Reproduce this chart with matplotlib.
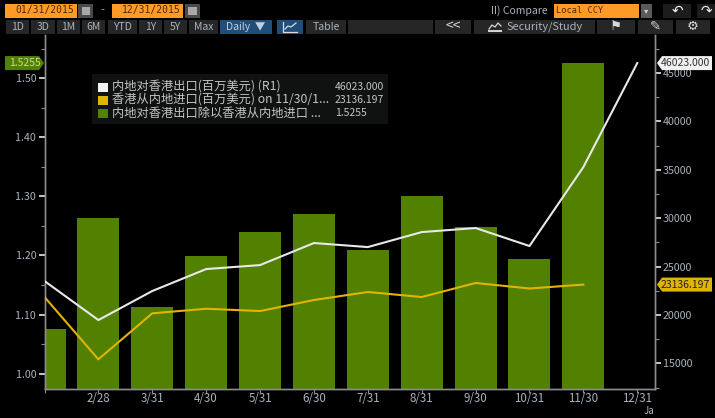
import matplotlib
matplotlib.use("Agg")
import matplotlib.pyplot as plt
from matplotlib.lines import Line2D
from matplotlib.patches import Rectangle, Polygon

plt.rcParams['font.family'] = ['Noto Sans CJK SC', 'DejaVu Sans']

W, H = 715, 418

months = ['', '2/28', '3/31', '4/30', '5/31', '6/30', '7/31', '8/31', '9/30', '10/31', '11/30', '12/31']
ratio = [1.0756, 1.263, 1.112, 1.199, 1.24, 1.27, 1.209, 1.30, 1.248, 1.194, 1.5255]
exports = [23500, 19470, 22470, 24740, 25150, 27430, 27010, 28560, 28980, 27120, 35280, 46023]
imports = [21850, 15410, 20165, 20640, 20400, 21540, 22370, 21850, 23300, 22730, 23136.197]
left_ticks = [1.00, 1.10, 1.20, 1.30, 1.40, 1.50]
right_ticks = [15000, 20000, 25000, 30000, 35000, 40000, 45000]

GREEN = '#528000'
YELLOW = '#e0b400'
WHITE = '#e8e8e8'
LABEL = '#aab2bc'
AXIS = '#8c8c8c'

fig = plt.figure(figsize=(W / 100, H / 100), dpi=100, facecolor='black')


# everything outside the axes is placed in pixels, top left origin
def box(x0, y0, x1, y1, color, z=1):
    fig.patches.append(Rectangle((x0 / W, 1 - y1 / H), (x1 - x0) / W, (y1 - y0) / H,
                                 transform=fig.transFigure, facecolor=color, edgecolor='none', zorder=z))


def label(x, y, s, color=LABEL, size=7.5, ha='center', **kw):
    fig.text(x / W, 1 - y / H, s, color=color, fontsize=size, ha=ha, va='center', zorder=5, **kw)


def squiggle(xs, ys, color='#d8d8d8', lw=0.9):
    fig.add_artist(Line2D([a / W for a in xs], [1 - b / H for b in ys], color=color, lw=lw,
                          transform=fig.transFigure, zorder=6))


def tag(y, x0, x1, color, s, text_color, point):
    # y is in pixels from the top, the arrow side points to the axis
    if point == 'right':
        pts = [(x0, y - 7), (x1 - 5, y - 7), (x1, y), (x1 - 5, y + 7), (x0, y + 7)]
    else:
        pts = [(x0, y), (x0 + 5, y - 7), (x1, y - 7), (x1, y + 7), (x0 + 5, y + 7)]
    fig.patches.append(Polygon([(a / W, 1 - b / H) for a, b in pts], closed=True,
                               transform=fig.transFigure, facecolor=color, edgecolor='none', zorder=6))
    fig.text((x0 + x1) / 2 / W + 0.001, 1 - y / H, s, color=text_color, fontsize=7.5,
             ha='center', va='center', zorder=7)


ax = fig.add_axes([44.5 / W, 1 - 389 / H, 610 / W, 354 / H], facecolor='black')
ax2 = ax.twinx()

x = list(range(len(months)))
ax.bar(x[:len(ratio)], ratio, width=0.78, color=GREEN, zorder=2)
ax.set_xlim(0, 11.32)
ax.set_ylim(0.974, 1.573)

ax2.plot(x[:len(exports)], exports, color=WHITE, lw=1.5, zorder=3)
ax2.plot(x[:len(imports)], imports, color=YELLOW, lw=1.5, zorder=3)
ax2.set_ylim(12345, 48926)

ax.set_xticks(x)
ax.set_xticklabels(months)
ax.set_yticks(left_ticks)
ax.set_yticklabels(['%.2f' % v for v in left_ticks])
ax.set_yticks([v + 0.05 for v in left_ticks], minor=True)
ax2.set_yticks(right_ticks)
ax2.set_yticklabels([str(v) for v in right_ticks])
ax2.set_yticks([v + 2500 for v in right_ticks[:-1]] + [12500, 47500], minor=True)

ax.tick_params(axis='x', colors=AXIS, labelcolor=LABEL, labelsize=8.3, length=3, width=0.8, pad=-1)
ax.tick_params(axis='y', which='major', colors=WHITE, labelcolor=LABEL, labelsize=7.7, length=4, width=1.2, pad=2)
ax.tick_params(axis='y', which='minor', colors=AXIS, length=3, width=0.8)
ax2.tick_params(axis='y', which='major', colors=WHITE, labelcolor=LABEL, labelsize=7.7, length=4, width=1.2, pad=2)
ax2.tick_params(axis='y', which='minor', colors=AXIS, length=3, width=0.8)
for a in (ax, ax2):
    a.spines['top'].set_visible(False)
    for side in ('left', 'right', 'bottom'):
        a.spines[side].set_color(AXIS)
        a.spines[side].set_linewidth(1.0)

# value tags on both axes
to_px = lambda a, v: H - a.transData.transform((0, v))[1]
tag(to_px(ax, ratio[-1]), 5, 44, GREEN, '1.5255', '#c8d8a8', 'right')
tag(to_px(ax2, exports[-1]), 657, 712, '#f0f0f0', '46023.000', '#333333', 'left')
tag(to_px(ax2, imports[-1]), 657, 712, YELLOW, '23136.197', '#222222', 'left')

# legend panel
box(92, 74, 388, 124, '#101212', 4)
rows = [(87, '#f2f2f2', '内地对香港出口(百万美元) (R1)', '46023.000'),
        (100, YELLOW, '香港从内地进口(百万美元) on 11/30/1...', '23136.197'),
        (113, GREEN, '内地对香港出口除以香港从内地进口 ...', '1.5255')]
for y, c, s, v in rows:
    box(98, y - 4.5, 108, y + 4.5, c, 5)
    label(112, y, s, color='#c4c4c4', size=8.8, ha='left')
    label(335, y, v, color='#c4c4c4', size=7.5, ha='left')

# toolbar, first row
ORANGE = '#ff9a26'
BTN = '#262626'
for x0, x1, s in [(5, 77, '01/31/2015'), (112, 183, '12/31/2015')]:
    box(x0, 4, x1, 18, ORANGE, 2)
    label((x0 + x1) / 2 + 4, 10.5, s, color='#4a2a00', size=7, family='DejaVu Sans Mono')
for x0 in (78, 185):
    box(x0, 4, x0 + 15, 18, '#4a4a4a', 2)
    box(x0 + 3.5, 7, x0 + 11.5, 15, '#a8a8a8', 3)
label(102, 10.5, '-', color=ORANGE, size=8)
label(519, 10.5, 'II) Compare', color=LABEL, size=7.5)
box(554, 4, 639, 18, ORANGE, 2)
label(556, 10.5, 'Local CCY', color='#4a2a00', size=6.2, ha='left', family='DejaVu Sans Mono')
box(641, 4, 652, 18, '#5a5a5a', 2)
label(646.5, 11, '▾', color='#d0d0d0', size=6)
box(663, 4, 691, 18, '#1c1c1c', 2)
label(677, 10.5, '↶', color='#f0f0f0', size=10)
box(697, 4, 715, 18, '#1c1c1c', 2)
label(706, 10.5, '↷', color='#f0f0f0', size=10)

# toolbar, second row
buttons = [(6, 29, '1D'), (31, 55, '3D'), (57, 80, '1M'), (82, 105, '6M'), (108, 137, 'YTD'),
           (139, 162, '1Y'), (164, 187, '5Y'), (189, 218, 'Max'), (306, 346, 'Table'),
           (348, 433, ''), (435, 471, '<<'), (474, 595, ''),
           (597, 635, '⚑'), (638, 673, '✎'), (676, 710, '⚙')]
for x0, x1, s in buttons:
    box(x0, 20, x1, 34, BTN, 2)
    if s == '<<':
        label((x0 + x1) / 2, 26.5, s, color='#d8d8d8', size=10)
    elif s in ('⚑', '✎', '⚙'):
        label((x0 + x1) / 2, 26.5, s, color='#d8d8d8', size=9.5)
    elif s:
        label((x0 + x1) / 2, 26.5, s, size=7.5)
label(544.5, 26.5, 'Security/Study', size=7.9)
squiggle([489, 492, 495, 498, 501], [29, 25, 27, 23, 26])
squiggle([489, 501], [31, 31], lw=1.4)
box(220, 20, 272, 34, '#1f4e79', 2)
label(246, 26.5, 'Daily  ▼', color='#c0d0e0', size=7.5)
box(277, 20, 303, 34, '#1f4e79', 2)
squiggle([283, 283, 297], [22, 32, 32])
squiggle([285, 288, 291, 296], [29, 26, 27, 23])

label(649, 411, 'Ja', size=7)

fig.savefig('out.png', dpi=100, facecolor='black')
